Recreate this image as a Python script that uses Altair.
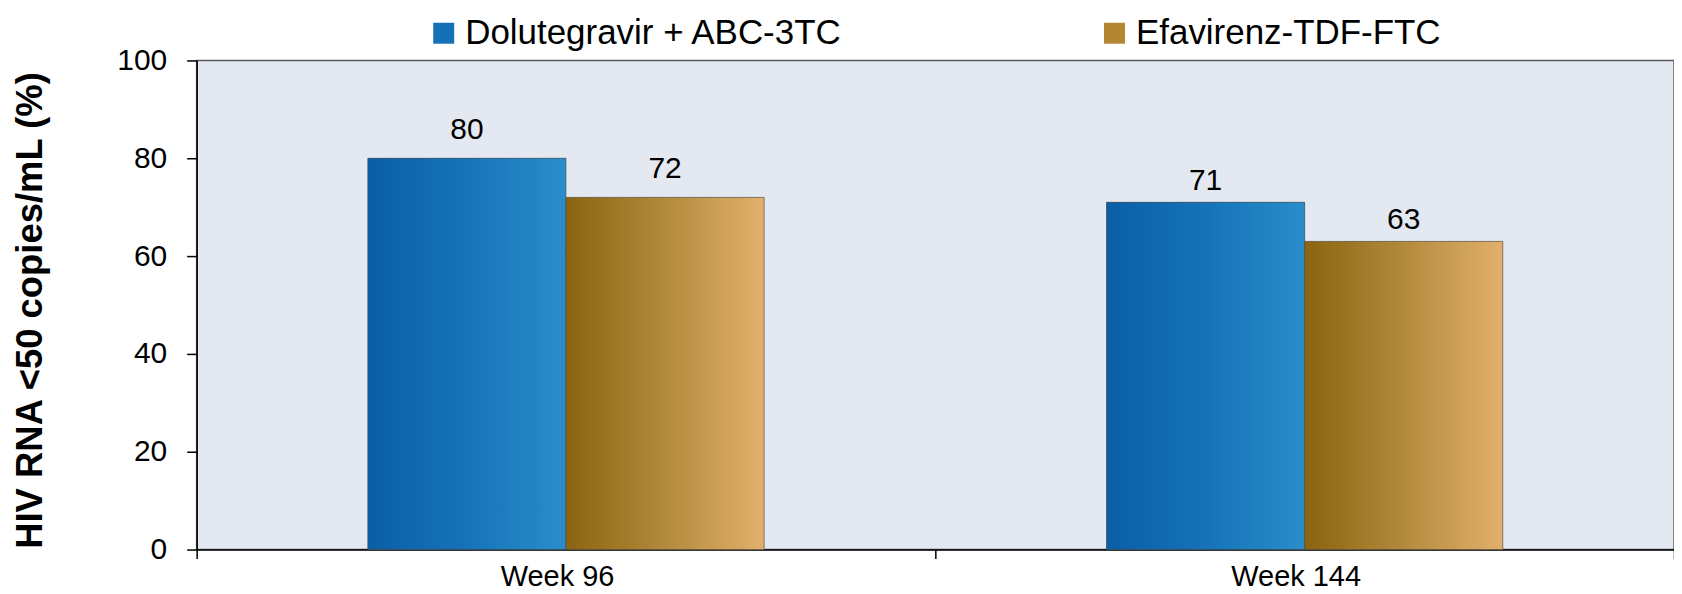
import altair as alt
import pandas as pd

weeks = ["Week 96", "Week 144"]
arms = ["Dolutegravir + ABC-3TC", "Efavirenz-TDF-FTC"]
dolutegravir = [80, 71]
efavirenz = [72, 63]
y_ticks = [0, 20, 40, 60, 80, 100]

rows = []
for i, w in enumerate(weeks):
    rows.append({"week": w, "arm": arms[0], "value": dolutegravir[i]})
    rows.append({"week": w, "arm": arms[1], "value": efavirenz[i]})
df = pd.DataFrame(rows)

FONT = "Liberation Sans"

x_enc = alt.X(
    "week:N", sort=weeks, title=None,
    scale=alt.Scale(paddingInner=0, paddingOuter=0),
    axis=alt.Axis(labelAngle=0, labelFontSize=29, labelFont=FONT, labelColor="black",
                  tickBand="extent", tickSize=9, tickColor="black", tickWidth=1.5,
                  domainColor="black", domainWidth=1.5, labelPadding=4, labelOffset=-9),
)
xo_enc = alt.XOffset("arm:N", sort=arms, scale=alt.Scale(paddingOuter=0.864, paddingInner=0))
y_enc = alt.Y(
    "value:Q", scale=alt.Scale(domain=[0, 100], nice=False),
    axis=alt.Axis(values=y_ticks, grid=False, labelFontSize=30, labelFont=FONT, labelColor="black",
                  tickSize=10, tickColor="black", tickWidth=1.5, domainColor="black", domainWidth=1.5,
                  labelPadding=20, title="HIV RNA <50 copies/mL (%)", titleFont=FONT,
                  titleFontSize=36.5, titleFontWeight="bold", titleColor="black",
                  titleX=-166, titleY=250, titleAngle=270, titleAlign="center",
                  titleBaseline="middle"),
)

base = alt.Chart(df).encode(x=x_enc, xOffset=xo_enc, y=y_enc)

solid = base.mark_bar().encode(
    color=alt.Color("arm:N", sort=arms,
                    scale=alt.Scale(domain=arms, range=["#1570b5", "#b38634"]),
                    legend=alt.Legend(title=None, orient="none", legendX=230, legendY=-45,
                                      direction="horizontal", symbolType="square", symbolSize=441,
                                      symbolStrokeWidth=0, labelFontSize=35, labelFont=FONT,
                                      labelColor="black", labelOffset=4, columnPadding=254,
                                      labelLimit=0, padding=0, symbolOpacity=1))
)

blue_grad = alt.LinearGradient(
    gradient="linear", x1=0, x2=1, y1=0, y2=0,
    stops=[alt.GradientStop(offset=0, color="#0a5fa6"),
           alt.GradientStop(offset=0.5, color="#1673b9"),
           alt.GradientStop(offset=1, color="#2a8dc9")])
gold_grad = alt.LinearGradient(
    gradient="linear", x1=0, x2=1, y1=0, y2=0,
    stops=[alt.GradientStop(offset=0, color="#8a6410"),
           alt.GradientStop(offset=0.5, color="#b38a3c"),
           alt.GradientStop(offset=1, color="#e2b06c")])

blue_bars = base.mark_bar(color=blue_grad, stroke="#4a4a4a", strokeWidth=1, strokeOpacity=0.6).transform_filter(
    alt.datum.arm == arms[0])
gold_bars = base.mark_bar(color=gold_grad, stroke="#4a4a4a", strokeWidth=1, strokeOpacity=0.6).transform_filter(
    alt.datum.arm == arms[1])

labels96 = base.mark_text(baseline="alphabetic", dy=-19, fontSize=30, font=FONT, color="black").encode(
    text=alt.Text("value:Q")).transform_filter(alt.datum.week == weeks[0])
labels144 = base.mark_text(baseline="alphabetic", dy=-12.5, fontSize=30, font=FONT, color="black").encode(
    text=alt.Text("value:Q")).transform_filter(alt.datum.week == weeks[1])

chart = alt.layer(solid, blue_bars, gold_bars, labels96, labels144).properties(
    width=1480, height=490,
    padding={"left": 189, "top": 52, "right": 0, "bottom": 44},
    autosize=alt.AutoSizeParams(type="none"),
).configure_view(fill="#e4e8f1", stroke="#5a5a5a", strokeWidth=1.5)

chart.save("out.html", embed_options={"renderer": "svg", "actions": False})
